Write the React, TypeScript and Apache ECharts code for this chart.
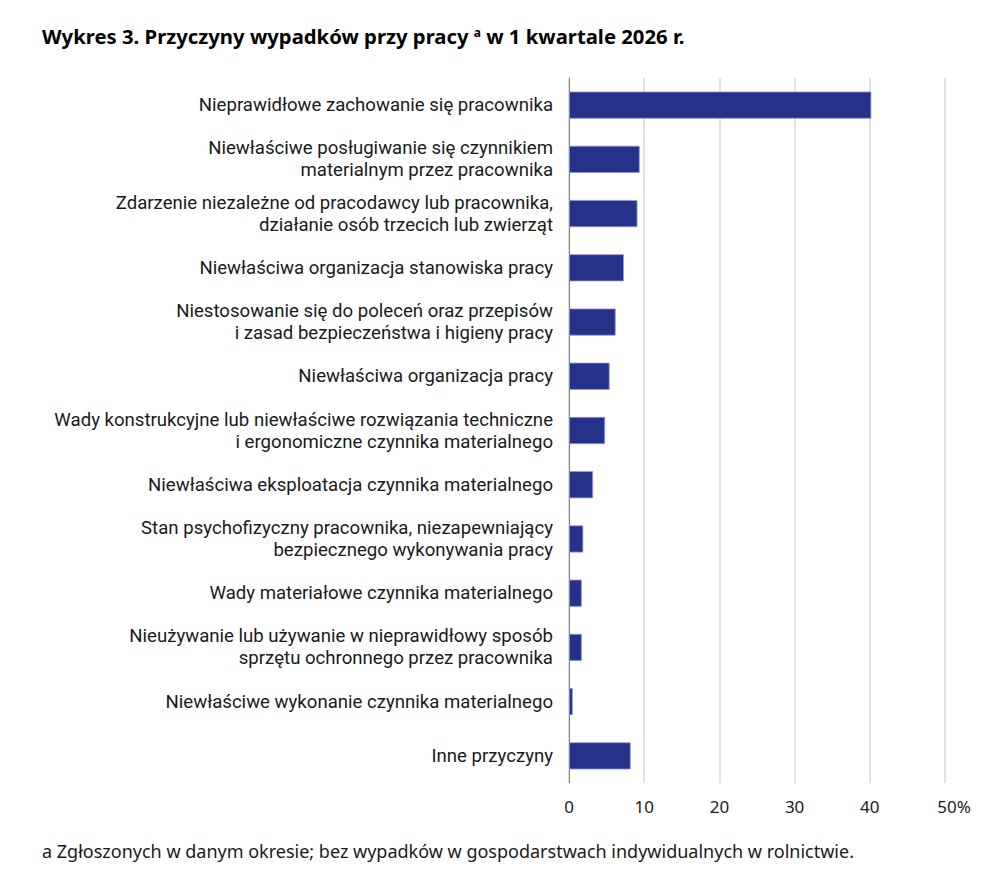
import React, { useEffect, useRef } from "react";
import * as echarts from "echarts";

const categories: string[] = [
  "Nieprawidłowe zachowanie się pracownika",
  "Niewłaściwe posługiwanie się czynnikiem\nmaterialnym przez pracownika",
  "Zdarzenie niezależne od pracodawcy lub pracownika,\ndziałanie osób trzecich lub zwierząt",
  "Niewłaściwa organizacja stanowiska pracy",
  "Niestosowanie się do poleceń oraz przepisów\ni zasad bezpieczeństwa i higieny pracy",
  "Niewłaściwa organizacja pracy",
  "Wady konstrukcyjne lub niewłaściwe rozwiązania techniczne\ni ergonomiczne czynnika materialnego",
  "Niewłaściwa eksploatacja czynnika materialnego",
  "Stan psychofizyczny pracownika, niezapewniający\nbezpiecznego wykonywania pracy",
  "Wady materiałowe czynnika materialnego",
  "Nieużywanie lub używanie w nieprawidłowy sposób\nsprzętu ochronnego przez pracownika",
  "Niewłaściwe wykonanie czynnika materialnego",
  "Inne przyczyny",
];

const values: number[] = [40.2, 9.4, 9.1, 7.3, 6.2, 5.4, 4.8, 3.2, 1.9, 1.7, 1.7, 0.5, 8.2];

const xTicks = { min: 0, max: 50, interval: 10 };

const titleText = "Wykres 3. Przyczyny wypadków przy pracy ";
const titleSup = "a";
const titleRest = " w 1 kwartale 2026 r.";
const footnote = "a Zgłoszonych w danym okresie; bez wypadków w gospodarstwach indywidualnych w rolnictwie.";

const TEXT = "#1a1a1a";
const BAR = "#263189";
const FONT = "'Noto Sans', 'Open Sans', sans-serif";
const LFONT = "Roboto, 'Noto Sans', sans-serif";

export default function App() {
  const ref = useRef<HTMLDivElement>(null);
  useEffect(() => {
    if (!ref.current) return;
    const chart = echarts.init(ref.current, undefined, { renderer: "svg" });
    chart.setOption({
      animation: false,
      backgroundColor: "#ffffff",
      title: {
        left: 42,
        top: 26,
        padding: 0,
        text: `{t|${titleText}}{s|${titleSup}}{t|${titleRest}}`,
        textStyle: {
          rich: {
            t: { fontFamily: FONT, fontWeight: "bold", fontSize: 20.3, color: "#000000" },
            s: { fontFamily: FONT, fontWeight: "bold", fontSize: 12, color: "#000000", verticalAlign: "top", padding: [0, 0, 8, 0] },
          },
        },
      },
      grid: { left: 569, right: 47, top: 78, bottom: 107, containLabel: false },
      xAxis: {
        type: "value",
        min: xTicks.min,
        max: xTicks.max,
        interval: xTicks.interval,
        axisLine: { show: false },
        axisTick: { show: false },
        splitLine: { show: true, lineStyle: { color: "#d9d9d9", width: 1.5 } },
        axisLabel: {
          margin: 15,
          fontFamily: FONT,
          fontSize: 17,
          color: TEXT,
          formatter: (v: number) => (v === xTicks.max ? `{p|${v}%}` : `${v}`),
          rich: { p: { fontFamily: FONT, fontSize: 17, color: TEXT, padding: [0, 0, 0, 18] } },
        },
      },
      yAxis: {
        type: "category",
        data: categories,
        inverse: true,
        axisLine: { show: true, lineStyle: { color: "#7f7f7f", width: 1 } },
        axisTick: { show: false },
        splitLine: { show: false },
        axisLabel: {
          margin: 16,
          fontFamily: LFONT,
          fontSize: 18.6,
          lineHeight: 22,
          color: TEXT,
          align: "right",
        },
      },
      series: [
        {
          type: "bar",
          data: values,
          barCategoryGap: "50%",
          itemStyle: { color: BAR, borderColor: "#8f98d4", borderWidth: 0.8 },
        },
      ],
      graphic: [
        {
          type: "text",
          left: 42,
          top: 842,
          style: { text: footnote, fontFamily: FONT, fontSize: 18, fill: TEXT },
        },
      ],
    });
    return () => chart.dispose();
  }, []);
  return <div ref={ref} style={{ position: "absolute", left: 0, top: 0, width: 992, height: 890 }} />;
}
